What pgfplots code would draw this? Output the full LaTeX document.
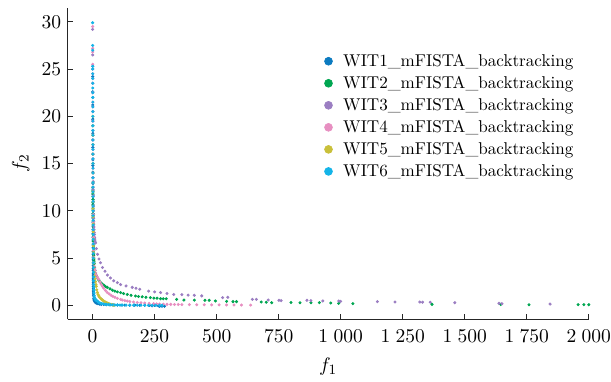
\documentclass[border=0pt]{standalone}
\usepackage{pgfplots}
\pgfplotsset{compat=1.18}
\definecolor{c1}{HTML}{0C7BC0}
\definecolor{c2}{HTML}{00A651}
\definecolor{c3}{HTML}{9B7EC2}
\definecolor{c4}{HTML}{E78FC1}
\definecolor{c5}{HTML}{C9C03A}
\definecolor{c6}{HTML}{14B4E8}
\begin{document}
\begin{tikzpicture}
\begin{axis}[
  name=ax,
  scale only axis, width=292.7pt, height=175pt,
  xmin=-101, xmax=2000, ymin=-1.48, ymax=31.5,
  axis lines*=left, tick align=inside, major tick length=3pt,
  axis line style={black!85, line width=0.6pt},
  tick style={black!85, line width=0.6pt},
  xtick={0,250,500,750,1000,1250,1500,1750,2000},
  ytick={0,5,10,15,20,25,30},
  tick label style={font=\fontsize{11}{13}\selectfont},
  xticklabel style={inner xsep=0pt, yshift=-2.2pt},
  label style={font=\fontsize{11}{13}\selectfont},
  xlabel style={yshift=-2.2pt},
  /pgf/number format/1000 sep={\;},
  xlabel={$f_1$}, ylabel={$f_2$},
  legend style={at={(0.48,0.876)}, anchor=north west, draw=none, fill=none,
    row sep=0pt, font=\fontsize{9.6}{12}\selectfont},
  legend cell align=left,
  legend image code/.code={\draw[#1, mark size=2.2pt] plot coordinates {(0cm,0cm)}; \path[draw=none,fill=none] (-0.1cm,0) (0.22cm,0);},
  every axis plot/.append style={only marks, mark=*, mark size=0.65pt},
]
\addplot[c1] coordinates {(0.5,25.3)(0.6,24.2)(0.6,23.5)(0.7,22.6)(0.7,22)(0.8,21.2)(0.8,20.5)(0.9,19.7)(0.9,19)(1.0,18.2)(1.0,17.5)(1.1,16.7)(1.1,16)(1.2,15.4)(1.2,14.8)(1.3,14.1)(1.3,13.5)(1.4,12.9)(1.4,12.3)(1.5,11.7)(1.5,11.2)(1.6,10.7)(1.6,10.2)(1.7,9.7)(1.7,9.3)(1.8,8.8)(1.8,8.4)(1.9,8.0)(1.9,7.6)(2.0,7.2)(2.0,6.8)(2.1,6.4)(2.1,6.1)(2.2,5.7)(2.2,5.4)(2.3,5.1)(2.3,4.8)(2.4,4.5)(2.4,4.2)(2.5,3.9)(2.5,3.7)(2.6,3.4)(2.6,3.2)(2.7,3.0)(2.7,2.8)(2.8,2.6)(2.8,2.4)(3.0,2.2)(3.0,2.0)(3.2,1.8)(3.2,1.6)(3.5,1.45)(3.5,1.3)(4,1.1)(4,1.0)(5,0.75)(6,0.6)(7,0.52)(8,0.45)(10,0.35)(13,0.28)(17,0.22)(22,0.17)(28,0.13)(35,0.1)(45,0.08)(55,0.06)(70,0.05)(85,0.04)(100,0.03)(115,0.03)(130,0.02)(150,0.02)(170,0.02)(190,0.01)(210,0.01)(230,0.0)(240,-0.05)(250,0.0)(265,-0.05)(270,-0.1)(280,-0.1)(290,-0.1)};
\addlegendentry{WIT1\_mFISTA\_backtracking}
\addplot[c2] coordinates {(1.0,12.5)(1.1,12.1)(1.2,11.8)(1.3,11.5)(1.4,11.2)(1.5,10.9)(1.6,10.6)(1.7,10.3)(1.8,10.0)(1.9,9.7)(2.0,9.5)(2.1,9.2)(2.3,8.9)(2.4,8.6)(2.6,8.3)(2.7,8.0)(2.9,7.8)(3.0,7.5)(3.2,7.3)(3.3,7.0)(3.5,6.8)(3.7,6.5)(3.9,6.3)(4.1,6.0)(4.3,5.8)(4.5,5.5)(4.8,5.3)(5.1,5.0)(5.4,4.8)(5.8,4.6)(6.2,4.4)(7,4.1)(8,4.0)(10,3.7)(12,3.4)(15,3.15)(19,2.95)(24,2.7)(30,2.5)(37,2.3)(45,2.15)(52,2.0)(59,1.9)(70,1.75)(80,1.6)(90,1.5)(100,1.42)(113,1.34)(125,1.25)(140,1.15)(155,1.06)(173,0.98)(185,0.93)(200,0.9)(215,0.85)(233,0.81)(247,0.76)(260,0.75)(274,0.7)(285,0.7)(297,0.7)(339,0.63)(368,0.56)(410,0.55)(453,0.53)(470,0.53)(495,0.46)(540,0.42)(566,0.39)(580,0.39)(680,0.35)(700,0.33)(722,0.28)(800,0.3)(836,0.28)(880,0.28)(914,0.28)(960,0.24)(992,0.21)(1049,0.18)(1368,0.1)(1645,0.1)(1759,0.07)(1957,0.07)(1980,0.07)(2000,0.07)};
\addlegendentry{WIT2\_mFISTA\_backtracking}
\addplot[c3] coordinates {(0.3,29.2)(0.5,26.5)(0.6,25.0)(0.7,24)(0.8,22.5)(0.9,21)(1.1,19.5)(1.3,18)(1.4,17)(1.6,16)(1.8,15)(2.0,14)(2.2,13.1)(2.5,12.2)(2.8,11.6)(3,11)(3.3,10.5)(3.6,10)(4.0,9.6)(4.3,9.2)(4.6,8.9)(5,8.6)(5.5,8.3)(6,8)(6.7,7.7)(7.5,7.5)(8.2,7.2)(9,7.0)(10,6.8)(12,6.6)(15,6.0)(20,5.4)(26,4.9)(32,4.5)(40,4.0)(50,3.6)(60,3.2)(72,2.9)(85,2.6)(100,2.4)(113,2.2)(135,2.05)(160,1.9)(175,1.8)(190,1.7)(226,1.5)(250,1.42)(274,1.35)(300,1.25)(327,1.15)(360,1.13)(385,1.08)(410,1.06)(440,1.0)(524,0.81)(545,0.85)(644,0.63)(660,0.63)(708,0.56)(751,0.53)(760,0.5)(864,0.53)(880,0.5)(928,0.46)(992,0.46)(1000,0.42)(1148,0.39)(1219,0.35)(1319,0.35)(1330,0.33)(1361,0.32)(1460,0.28)(1638,0.21)(1650,0.18)(1844,0.14)};
\addlegendentry{WIT3\_mFISTA\_backtracking}
\addplot[c4] coordinates {(0.3,29.5)(0.4,27.2)(0.5,26.8)(0.6,25.5)(0.7,24.5)(0.8,23.5)(0.9,22.5)(1.0,21.5)(1.1,20.5)(1.2,19.5)(1.3,18.5)(1.4,17.5)(1.5,16.5)(1.6,15.5)(1.7,14.5)(1.9,13.5)(2.0,12.5)(2.2,11.5)(2.4,10.5)(2.6,9.6)(2.8,8.8)(3.0,8.0)(3.3,7.2)(3.6,6.5)(4.0,5.8)(4.5,5.1)(5,4.5)(6.5,4.1)(8,3.9)(10,3.7)(12,3.45)(15,3.2)(20,2.95)(25,2.75)(30,2.45)(35,2.2)(40,2.0)(45,1.8)(52,1.58)(59,1.37)(67,1.2)(75,1.05)(82,0.95)(90,0.85)(100,0.74)(113,0.63)(120,0.56)(130,0.5)(140,0.45)(150,0.4)(165,0.35)(180,0.3)(195,0.27)(210,0.24)(228,0.21)(246,0.18)(258,0.16)(270,0.14)(285,0.12)(300,0.1)(315,0.1)(330,0.09)(345,0.09)(360,0.08)(390,0.07)(420,0.06)(450,0.06)(480,0.05)(510,0.05)(540,0.04)(570,0.04)(600,0.03)(637,0.03)};
\addlegendentry{WIT4\_mFISTA\_backtracking}
\addplot[c5] coordinates {(1.0,20)(1.1,19)(1.2,18)(1.3,17)(1.4,16)(1.5,15)(1.6,14)(1.7,13)(1.8,12)(1.9,11)(2.0,10.2)(2.2,9.4)(2.4,8.6)(2.6,7.8)(2.8,7.0)(3.0,6.3)(3.3,5.6)(3.6,5.0)(4.0,4.5)(5,4.0)(6.5,3.5)(8,3.1)(10,2.8)(12,2.5)(13.5,2.2)(15,2.0)(17,1.65)(19,1.37)(22,1.15)(25,1.0)(28,0.85)(32,0.75)(35,0.67)(38,0.6)(42,0.52)(45,0.45)(50,0.37)(55,0.3)(59,0.25)(63,0.2)(68,0.15)(72,0.1)(76,0.08)(80,0.05)(84,0.03)(88,0.02)};
\addlegendentry{WIT5\_mFISTA\_backtracking}
\addplot[c6] coordinates {(0.2,29.9)(0.3,27.5)(0.4,27.0)(0.5,25.3)(0.6,25.0)(0.7,24.5)(0.7,24.0)(0.8,23.5)(0.8,23.0)(0.9,22.5)(0.9,22.0)(1.0,21.5)(1.0,21.0)(1.1,20.5)(1.1,20.0)(1.2,19.5)(1.2,19.0)(1.3,18.5)(1.3,18.0)(1.4,17.5)(1.4,17.0)(1.5,16.5)(1.5,16.0)(1.6,15.5)(1.6,15.0)(1.7,14.5)(1.7,14.0)(1.8,13.5)(1.8,13.0)(1.9,12.5)(1.9,12.0)(2.0,11.5)(2.0,11.0)(2.1,10.5)(2.1,10.0)(2.2,9.5)(2.3,9.0)(2.4,8.5)(2.5,8.0)(2.6,7.5)(2.7,7.0)(2.8,6.5)(2.9,6.0)(3.0,5.5)(3.2,5.0)(3.4,4.5)(3.6,4.0)(3.8,3.5)(4.0,3.0)(4.3,2.6)(4.6,2.2)(5.0,1.9)(5.5,1.6)(6.0,1.3)(7.0,1.0)(8,0.8)(10,0.7)(12,0.6)(15,0.52)(19,0.45)(22,0.37)(25,0.3)(30,0.25)(35,0.2)(42,0.16)(50,0.12)(57,0.1)(65,0.08)(72,0.06)(80,0.05)(90,0.04)(100,0.04)(110,0.03)(120,0.03)(135,0.02)(150,0.02)(165,0.02)(180,0.01)(195,0.01)(210,0.01)(225,0.0)(240,0.0)(255,0.0)(270,0.0)(280,0.0)};
\addlegendentry{WIT6\_mFISTA\_backtracking}
\end{axis}
\path (current bounding box.north west) ++(-3.5pt,4pt);
\end{tikzpicture}
\end{document}
